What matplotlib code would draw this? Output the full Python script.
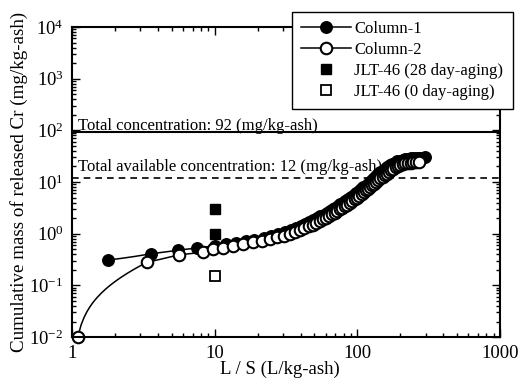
import numpy as np
import matplotlib
matplotlib.use("Agg")
import matplotlib.pyplot as plt
from matplotlib.ticker import LogLocator, NullFormatter, FixedLocator, FixedFormatter

plt.rcParams['font.family'] = ['Liberation Serif', 'DejaVu Serif']
plt.rcParams['mathtext.fontset'] = 'stix'

# Column-1 (filled circles)
col1_ls = [1.8, 3.6, 5.5, 7.5, 10, 12, 14, 16.5, 19, 22, 25, 28, 31, 34, 37, 40, 43, 46, 49,
           52, 55, 58, 61, 64, 67, 70, 73, 76, 79, 82, 86, 90, 94, 98, 102, 106, 110, 114,
           118, 122, 126, 130, 135, 140, 145, 150, 156, 162, 168, 175, 182, 190, 198, 207,
           216, 226, 237, 248, 260, 272, 285, 298]
col1_cr = [0.31, 0.41, 0.48, 0.53, 0.58, 0.62, 0.66, 0.71, 0.77, 0.84, 0.92, 1.0, 1.09, 1.19,
           1.30, 1.42, 1.55, 1.69, 1.84, 2.0, 2.17, 2.35, 2.55, 2.76, 2.98, 3.21, 3.45, 3.7,
           3.97, 4.25, 4.65, 5.1, 5.55, 6.05, 6.6, 7.2, 7.85, 8.5, 9.2, 9.95, 10.8, 11.7, 12.8,
           14.0, 15.3, 16.6, 18.1, 19.6, 21.0, 22.5, 23.8, 25.0, 26.0, 26.9, 27.6, 28.2, 28.7,
           29.1, 29.4, 29.6, 29.8, 30.0]

# Column-2 (open circles)
col2_ls = [1.1, 3.35, 5.6, 8.3, 9.8, 11.4, 13.4, 15.8, 18.5, 21.3, 24.4, 27.5, 30.5, 33.5,
           36.5, 39.5, 42.5, 45.5, 48.5, 51.5, 54.5, 57.5, 60.5, 63.5, 66.5, 69.5, 72.5, 75.5,
           78.5, 81.5, 85, 88.5, 92, 95.5, 99, 103, 107, 111, 115, 119, 123, 127, 131, 135,
           140, 145, 150, 155, 160, 166, 172, 178, 185, 192, 200, 208, 217, 226, 236, 247,
           258, 268]
col2_cr = [0.010, 0.28, 0.39, 0.44, 0.50, 0.53, 0.57, 0.62, 0.68, 0.73, 0.79, 0.85, 0.92,
           1.00, 1.08, 1.17, 1.27, 1.38, 1.50, 1.62, 1.76, 1.90, 2.05, 2.21, 2.38, 2.56, 2.75,
           2.95, 3.16, 3.38, 3.65, 3.95, 4.26, 4.6, 4.95, 5.4, 5.85, 6.35, 6.9, 7.45, 8.0, 8.6,
           9.25, 9.9, 10.8, 11.7, 12.6, 13.6, 14.6, 15.8, 17.0, 18.1, 19.3, 20.4, 21.4, 22.2,
           22.9, 23.4, 23.8, 24.1, 24.3, 24.5]

# JLT-46 batch tests at L/S = 10
jlt28_ls = [10, 10]
jlt28_cr = [3.0, 1.0]
jlt0_ls = [10]
jlt0_cr = [0.15]

total_conc = 92
avail_conc = 12


def linear_path(x, y, n=40):
    # straight segments in linear data space (they bend on log axes)
    xs, ys = [], []
    for i in range(len(x) - 1):
        t = np.linspace(0, 1, n)
        xs.extend(x[i] + (x[i + 1] - x[i]) * t)
        ys.extend(y[i] + (y[i + 1] - y[i]) * t)
    return xs, ys


fig = plt.figure(figsize=(5.21, 3.80), dpi=100)
ax = fig.add_axes([0.138, 0.113, 0.822, 0.816])
ax.set_xscale('log')
ax.set_yscale('log')
ax.set_xlim(1, 1000)
ax.set_ylim(1e-2, 1e4)

ax.axhline(total_conc, color='black', lw=1.5)
ax.axhline(avail_conc, color='black', lw=1.2, ls=(0, (4, 3)))
ax.text(1.1, total_conc * 1.12, 'Total concentration: 92 (mg/kg-ash)', fontsize=12)
ax.text(1.1, avail_conc * 1.35, 'Total available concentration: 12 (mg/kg-ash)', fontsize=12)

ms_c = 8.3
lx, ly = linear_path(col1_ls, col1_cr)
ax.plot(lx, ly, color='black', lw=1.1)
ax.plot(col1_ls, col1_cr, 'o', ms=ms_c, mfc='black', mec='black', mew=1.0)

lx, ly = linear_path(col2_ls, col2_cr)
ax.plot(lx, ly, color='black', lw=1.1)
ax.plot(col2_ls, col2_cr, 'o', ms=ms_c, mfc='white', mec='black', mew=1.5, clip_on=False)

ax.plot(jlt28_ls, jlt28_cr, 's', ms=7.5, mfc='black', mec='black')
ax.plot(jlt0_ls, jlt0_cr, 's', ms=7.5, mfc='white', mec='black', mew=1.3)

# legend handles
h1, = ax.plot([], [], '-o', color='black', ms=ms_c, mfc='black', lw=1.1)
h2, = ax.plot([], [], '-o', color='black', ms=ms_c, mfc='white', mew=1.5, lw=1.1)
h3, = ax.plot([], [], 's', ms=7.5, mfc='black', mec='black')
h4, = ax.plot([], [], 's', ms=7.5, mfc='white', mec='black', mew=1.3)
leg = fig.legend([h1, h2, h3, h4],
                 ['Column-1', 'Column-2', 'JLT-46 (28 day-aging)', 'JLT-46 (0 day-aging)'],
                 loc='upper right', bbox_to_anchor=(0.984, 0.968), fontsize=12,
                 frameon=True, fancybox=False, edgecolor='black', framealpha=1,
                 handlelength=3.0, handletextpad=0.18, labelspacing=0.29,
                 borderpad=0.55, borderaxespad=0)
leg.get_frame().set_linewidth(1.0)

ax.yaxis.set_major_locator(LogLocator(base=10, numticks=10))
ax.yaxis.set_minor_locator(LogLocator(base=10, subs=np.arange(2, 10), numticks=10))
ax.yaxis.set_minor_formatter(NullFormatter())
ax.xaxis.set_major_locator(FixedLocator([1, 10, 100, 1000]))
ax.xaxis.set_major_formatter(FixedFormatter(['1', '10', '100', '1000']))
ax.xaxis.set_minor_locator(LogLocator(base=10, subs=np.arange(2, 10), numticks=10))
ax.xaxis.set_minor_formatter(NullFormatter())

ax.tick_params(which='both', direction='in', top=True, right=True, labelsize=13.5, width=1.0)
ax.tick_params(which='major', length=6, pad=6)
ax.tick_params(which='minor', length=3)
for s in ax.spines.values():
    s.set_linewidth(1.5)

ax.set_xlabel('L / S (L/kg-ash)', fontsize=13.5)
ax.xaxis.set_label_coords(0.486, -0.075, transform=ax.transAxes)
ax.xaxis.label.set_va('top')
ax.set_ylabel('Cumulative mass of released Cr (mg/kg-ash)', fontsize=13.7, labelpad=1)

fig.savefig('out.png', dpi=100)
